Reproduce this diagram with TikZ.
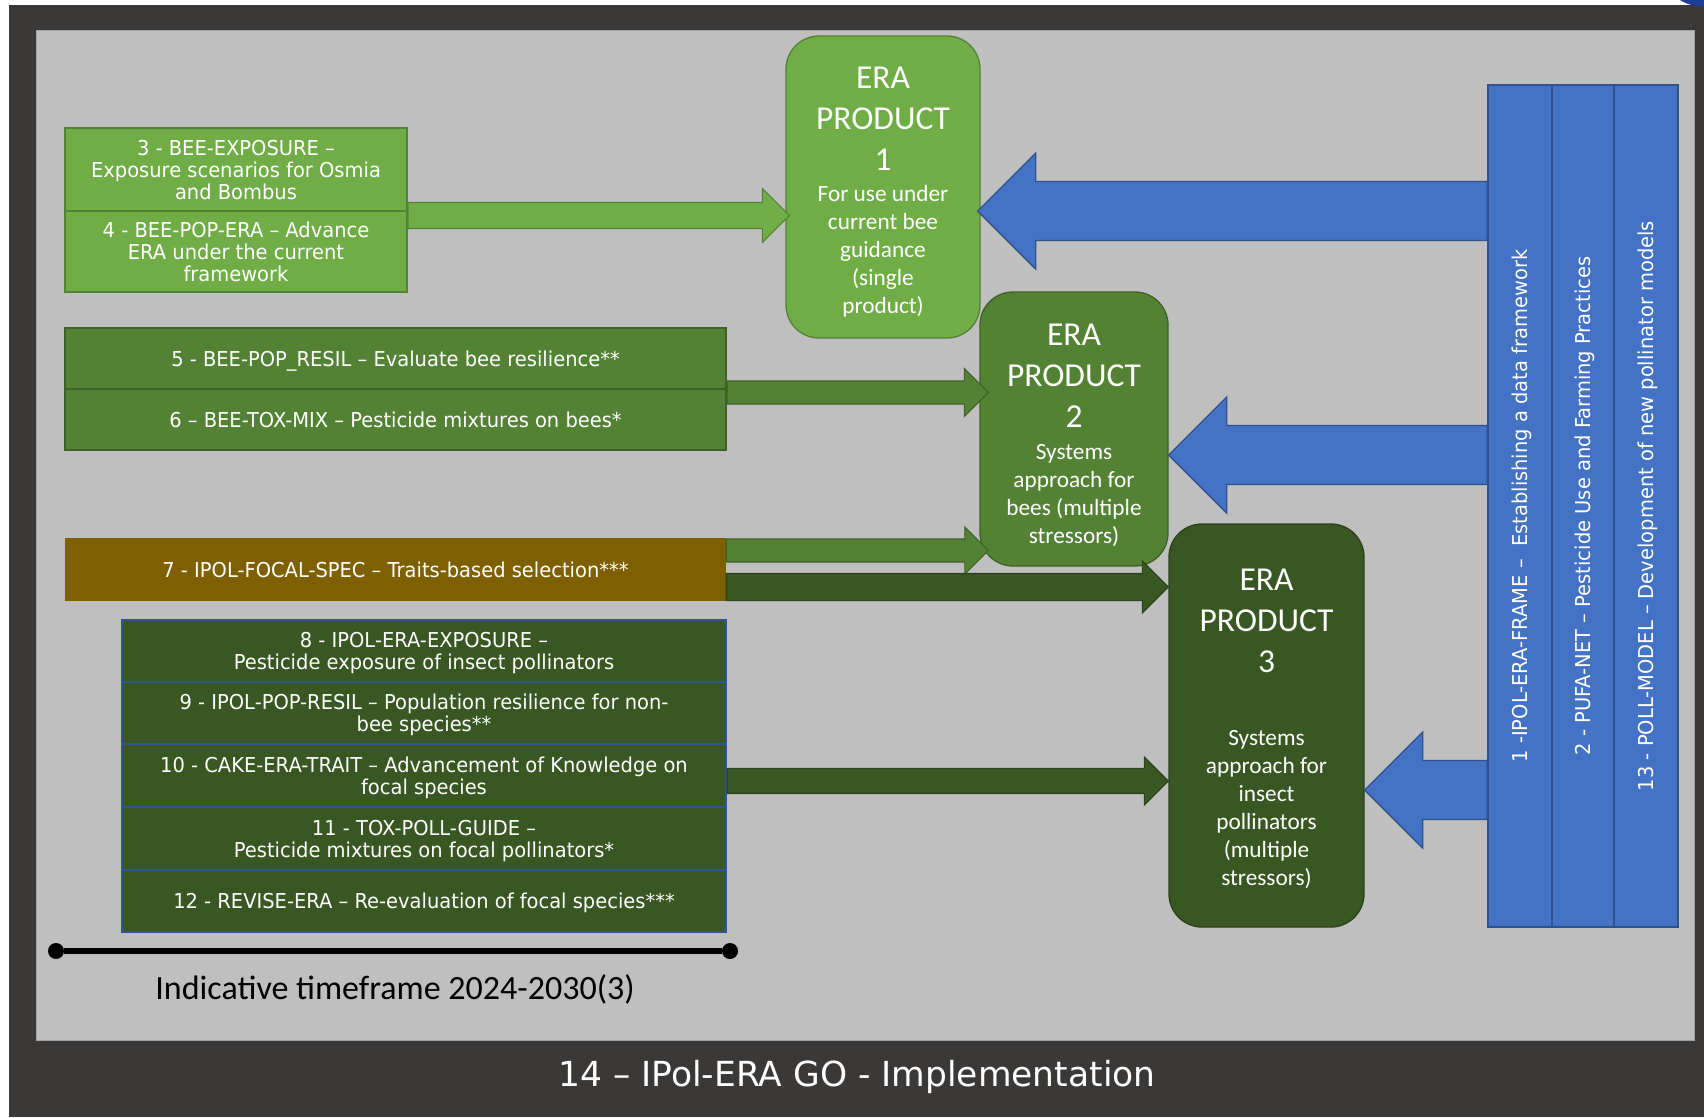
\documentclass[tikz,border=0pt]{standalone}
\usepackage{fontspec}
\usetikzlibrary{calc}
\newfontfamily\boxfont[FakeStretch=0.95]{DejaVu Sans}
\newfontfamily\calfont{Carlito}
\newfontfamily\titlefont{DejaVu Sans}
\definecolor{frame}{HTML}{3A3937}
\definecolor{panel}{HTML}{BFBFBF}
\definecolor{panelb}{HTML}{A3A3A3}
\definecolor{lgreen}{HTML}{70AD47}
\definecolor{lgreenb}{HTML}{548235}
\definecolor{mgreen}{HTML}{548235}
\definecolor{mgreenb}{HTML}{3D6126}
\definecolor{dgreen}{HTML}{385723}
\definecolor{dgreenb}{HTML}{2A431A}
\definecolor{brownbox}{HTML}{7F6000}
\definecolor{blue1}{HTML}{4472C4}
\definecolor{blueb}{HTML}{2F528F}
\definecolor{groupb}{HTML}{2F5597}
\definecolor{blob}{HTML}{1F3D99}
\newcommand\blockarrow[5]{%
  \path[#1] let \p1=(#2), \p2=(#3), \n1={ifthenelse(\x2>\x1,1,-1)} in
  (\x1,{\y1+#4}) -- ({\x2-(\n1)*#5},{\y1+#4}) -- ({\x2-(\n1)*#5},{\y1+#5}) -- (\x2,\y1)
  -- ({\x2-(\n1)*#5},{\y1-#5}) -- ({\x2-(\n1)*#5},{\y1-#4}) -- (\x1,{\y1-#4}) -- cycle;}
\begin{document}
\begin{tikzpicture}[x=1pt,y=-1pt,
  boxstyle/.style={rectangle, inner sep=0pt, align=center, text=white, text depth=0pt,
    font={\boxfont\fontsize{20.5}{22}\selectfont}},
  lbox/.style={boxstyle, fill=lgreen, draw=lgreenb, line width=2pt, minimum width=342pt},
  mbox/.style={boxstyle, fill=mgreen, draw=mgreenb, line width=2pt, minimum width=661pt, minimum height=61pt},
  gbox/.style={boxstyle, fill=dgreen, draw=groupb, line width=2.5pt, minimum width=604pt},
  colbox/.style={rectangle, fill=blue1, draw=blueb, line width=1.5pt, minimum height=842pt, inner sep=0pt},
  coltext/.style={boxstyle, rotate=90},
  prod/.style={rectangle, rounded corners=33pt, line width=1.3pt, inner sep=0pt},
  prodtitle/.style={align=center, text=white, inner sep=0pt, font={\calfont\fontsize{33.5}{41}\selectfont}},
  proddesc/.style={align=center, text=white, inner sep=0pt, text depth=0pt, font={\calfont\fontsize{23.3}{28}\selectfont}},
  larrow/.style={fill=lgreen, draw=lgreenb, line width=1.2pt},
  marrow/.style={fill=mgreen, draw=mgreenb, line width=1.2pt},
  darrow/.style={fill=dgreen, draw=dgreenb, line width=1.2pt},
  barrow/.style={fill=blue1, draw=blueb, line width=1.3pt},
  tdot/.style={circle, fill=black, inner sep=0pt, minimum size=16pt}
]
\useasboundingbox (0,0) rectangle (1704,1117);
\fill[white] (0,0) rectangle (1704,1117);
\fill[frame] (9,5) rectangle (1704,1117);
\fill[blob] (1700,-30) circle (36);
\filldraw[fill=panel, draw=panelb, line width=1pt] (36,30) rectangle (1694,1040);

% left boxes
\node[lbox, minimum height=83pt] (b3) at (236,169.5) {3 - BEE-EXPOSURE –\\Exposure scenarios for Osmia\\and Bombus};
\node[lbox, minimum height=81pt] (b4) at (236,251.5) {4 - BEE-POP-ERA – Advance\\ERA under the current\\framework};
\node[mbox] (b5) at (395.5,358.5) {5 - BEE-POP\_RESIL – Evaluate bee resilience**};
\node[mbox] (b6) at (395.5,419.5) {6 – BEE-TOX-MIX – Pesticide mixtures on bees*};
\node[boxstyle, fill=brownbox, minimum width=661pt, minimum height=63pt] (b7) at (395.5,569.5) {7 - IPOL-FOCAL-SPEC – Traits-based selection***};
\node[gbox, minimum height=62pt] (b8) at (424,651) {8 - IPOL-ERA-EXPOSURE –\\Pesticide exposure of insect pollinators};
\node[gbox, minimum height=62pt] (b9) at (424,713) {9 - IPOL-POP-RESIL – Population resilience for non-\\bee species**};
\node[gbox, minimum height=63pt] (b10) at (424,775.5) {10 - CAKE-ERA-TRAIT – Advancement of Knowledge on\\focal species};
\node[gbox, minimum height=63pt] (b11) at (424,838.5) {11 - TOX-POLL-GUIDE –\\Pesticide mixtures on focal pollinators*};
\node[gbox, minimum height=62pt] (b12) at (424,901) {12 - REVISE-ERA – Re-evaluation of focal species***};

% blue columns
\node[colbox, minimum width=64pt] (c1) at (1520,506) {};
\node[colbox, minimum width=62pt] (c2) at (1583,506) {};
\node[colbox, minimum width=64pt] (c3) at (1646,506) {};
\node[coltext] (c1t) at (c1.center) {1 -IPOL-ERA-FRAME –\ \ Establishing a data framework};
\node[coltext] (c2t) at (c2.center) {2 - PUFA-NET – Pesticide Use and Farming Practices};
\node[coltext] (c3t) at (c3.center) {13 - POLL-MODEL – Development of new pollinator models};

% products
\node[prod, fill=lgreen, draw=lgreenb, minimum width=194pt, minimum height=302pt] (p1) at (883,187) {};
\node[prod, fill=mgreen, draw=mgreenb, minimum width=188pt, minimum height=274pt] (p2) at (1074,429) {};
\node[prod, fill=dgreen, draw=dgreenb, minimum width=195pt, minimum height=403pt] (p3) at (1266.5,725.5) {};
\node[prodtitle] (p1t) at (883,119) {ERA\\PRODUCT\\1};
\node[proddesc] (p1d) at (883,249) {For use under\\current bee\\guidance\\(single\\product)};
\node[prodtitle] (p2t) at (1074,376) {ERA\\PRODUCT\\2};
\node[proddesc] (p2d) at (1074,493.5) {Systems\\approach for\\bees (multiple\\stressors)};
\node[prodtitle] (p3t) at (1266.5,621) {ERA\\PRODUCT\\3};
\node[proddesc] (p3d) at (1266.5,807.5) {Systems\\approach for\\insect\\pollinators\\(multiple\\stressors)};

% arrow end points
\coordinate (a1s) at (b3.east |- 0,215.5);
\coordinate (a1e) at ($(p1.west |- 0,215.5)+(4,0)$);
\coordinate (a2s) at (b5.east |- 0,392.5);
\coordinate (a2e) at ($(p2.west |- 0,392.5)+(9,0)$);
\coordinate (a3s) at (b7.east |- 0,550.5);
\coordinate (a3e) at ($(p2.west |- 0,550.5)+(9,0)$);
\coordinate (a4s) at (b7.east |- 0,587);
\coordinate (a4e) at (p3.west |- 0,587);
\coordinate (a5s) at (b10.east |- 0,781);
\coordinate (a5e) at (p3.west |- 0,781);
\coordinate (bl1s) at (c1.west |- 0,211);
\coordinate (bl1e) at ($(p1.east |- 0,211)+(-3,0)$);
\coordinate (bl2s) at (c1.west |- 0,455);
\coordinate (bl2e) at (p2.east |- 0,455);
\coordinate (bl3s) at (c1.west |- 0,790);
\coordinate (bl3e) at (p3.east |- 0,790);

\blockarrow{larrow}{a1s}{a1e}{13pt}{27pt}
\blockarrow{marrow}{a2s}{a2e}{11.5pt}{24pt}
\blockarrow{marrow}{a3s}{a3e}{11.5pt}{23.5pt}
\blockarrow{darrow}{a4s}{a4e}{13.5pt}{26pt}
\blockarrow{darrow}{a5s}{a5e}{12.5pt}{24pt}
\blockarrow{barrow}{bl1s}{bl1e}{29.5pt}{58pt}
\blockarrow{barrow}{bl2s}{bl2e}{29.5pt}{58pt}
\blockarrow{barrow}{bl3s}{bl3e}{29.5pt}{58pt}

% timeline
\node[tdot] (t0) at (56,951) {};
\node[tdot] (t1) at (730,951) {};
\draw[line width=6.5pt] (t0) -- (t1);
\node[inner sep=0pt, font={\calfont\fontsize{34}{40}\selectfont}] (tf) at (395,989) {Indicative timeframe 2024-2030(3)};

% title
\node[inner sep=0pt, text=white, font={\titlefont\fontsize{34.5}{40}\selectfont}] (title) at (857,1077) {14 – IPol-ERA GO - Implementation};
\end{tikzpicture}
\end{document}
